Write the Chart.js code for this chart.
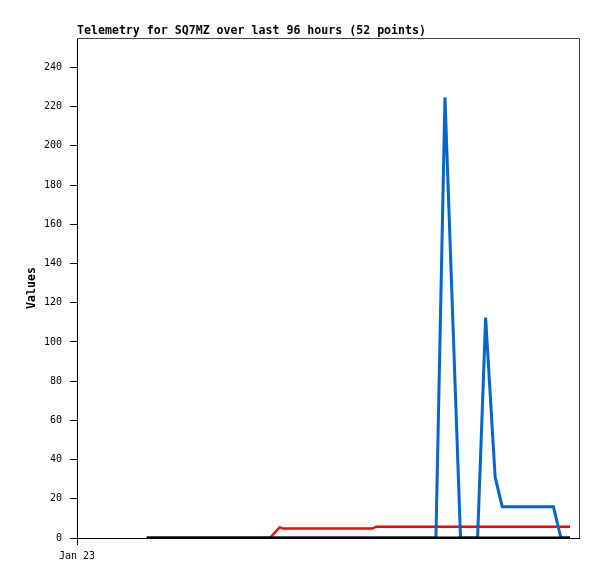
<!DOCTYPE html>
<html>
<head>
<meta charset="utf-8">
<script src="https://cdn.jsdelivr.net/npm/chart.js@4/dist/chart.umd.min.js"></script>
<style>
    html, body { margin: 0; padding: 0; background: #fff; }
    #wrap { width: 597px; height: 579px; }
</style>
</head>
<body>
<div id="wrap"><canvas id="telemetry" width="597" height="579"></canvas></div>
<script>
// 시간 축: Jan 23 00:00 부터의 시간(h)
const xTicks = [0];
const xTickLabels = ['Jan 23'];
const yTicks = [0, 20, 40, 60, 80, 100, 120, 140, 160, 180, 200, 220, 240];

// 검정 시리즈 (항상 0)
const blackHours = [13.9, 98.2];
const blackValues = [0, 0];

// 빨강 시리즈
const redHours = [13.9, 38.4, 40.4, 41.0, 58.8, 59.6, 98.2];
const redValues = [0, 0, 5.5, 4.8, 4.8, 5.8, 5.8];

// 파랑 시리즈
const blueHours = [13.9, 71.5, 73.3, 76.4, 79.8, 81.4, 83.3, 84.7, 94.9, 96.4, 98.2];
const blueValues = [0, 0, 224.7, 0, 0, 112.4, 31, 16, 16, 0, 0];

const monoFont = "'DejaVu Sans Mono', 'Liberation Mono', monospace";

function toPoints(xs, ys) {
    return xs.map((x, i) => ({ x: x, y: ys[i] }));
}

// 제목, 축 제목, 테두리 그리기
const decorPlugin = {
    id: 'decor',
    afterDraw(chart) {
        const ctx = chart.ctx;
        const area = chart.chartArea;
        ctx.save();
        ctx.strokeStyle = '#444';
        ctx.lineWidth = 1;
        ctx.beginPath();
        ctx.moveTo(area.left, area.top + 0.5);
        ctx.lineTo(area.right + 0.5, area.top + 0.5);
        ctx.lineTo(area.right + 0.5, area.bottom);
        ctx.stroke();

        ctx.fillStyle = '#000';
        ctx.font = "bold 11.6px " + monoFont;
        ctx.textAlign = 'left';
        ctx.textBaseline = 'alphabetic';
        ctx.fillText('Telemetry for SQ7MZ over last 96 hours (52 points)', area.left, 34);

        ctx.translate(32, (area.top + area.bottom) / 2);
        ctx.rotate(-Math.PI / 2);
        ctx.textAlign = 'center';
        ctx.textBaseline = 'middle';
        ctx.fillText('Values', 0, 0);
        ctx.restore();
    }
};

document.addEventListener('DOMContentLoaded', () => {
    const ctx = document.getElementById('telemetry').getContext('2d');
    new Chart(ctx, {
        type: 'line',
        data: {
            datasets: [
                {
                    data: toPoints(blackHours, blackValues),
                    borderColor: '#000000',
                    borderWidth: 3
                },
                {
                    data: toPoints(blueHours, blueValues),
                    borderColor: '#0066cc',
                    borderWidth: 3
                },
                {
                    data: toPoints(redHours, redValues),
                    borderColor: '#ff0000',
                    borderWidth: 2.5
                }
            ]
        },
        options: {
            responsive: false,
            animation: false,
            layout: { padding: { top: 38, right: 18, left: 0, bottom: 0 } },
            elements: {
                point: { radius: 0 },
                line: { tension: 0, fill: false }
            },
            plugins: {
                legend: { display: false },
                title: { display: false },
                tooltip: { enabled: false }
            },
            scales: {
                x: {
                    type: 'linear',
                    min: 0,
                    max: 100,
                    afterBuildTicks: (scale) => {
                        scale.ticks = xTicks.map(v => ({ value: v }));
                    },
                    afterFit: (scale) => { scale.height = 41; },
                    ticks: {
                        color: '#000',
                        font: { family: monoFont, size: 10 },
                        padding: 5,
                        maxRotation: 0,
                        autoSkip: false,
                        callback: (v) => {
                            const i = xTicks.indexOf(v);
                            return i >= 0 ? xTickLabels[i] : '';
                        }
                    },
                    grid: {
                        drawOnChartArea: false,
                        tickLength: 7,
                        color: '#000'
                    },
                    border: { color: '#000', width: 1 }
                },
                y: {
                    min: 0,
                    max: 255,
                    afterBuildTicks: (scale) => {
                        scale.ticks = yTicks.map(v => ({ value: v }));
                    },
                    afterFit: (scale) => { scale.width = 77; },
                    ticks: {
                        color: '#000',
                        font: { family: monoFont, size: 10 },
                        padding: 8
                    },
                    grid: {
                        drawOnChartArea: false,
                        tickLength: 7,
                        color: '#000'
                    },
                    border: { color: '#000', width: 1 }
                }
            }
        },
        plugins: [decorPlugin]
    });
});
</script>
</body>
</html>
